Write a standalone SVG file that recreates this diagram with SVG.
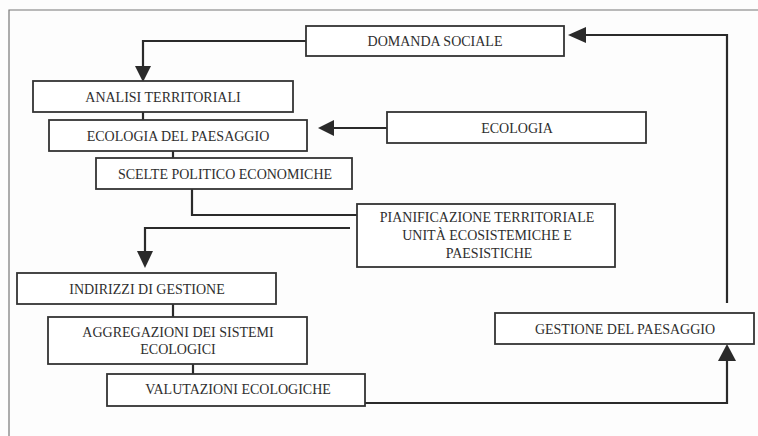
<svg xmlns="http://www.w3.org/2000/svg" width="758" height="436" viewBox="0 0 758 436">
<style>
.box{fill:#fff;stroke:#333;stroke-width:1.8}
.t{font-family:"Liberation Serif","Times New Roman",serif;font-size:14px;fill:#2e2e2e;text-anchor:middle}
.c{fill:none;stroke:#2a2a2a;stroke-width:2.2}
.frame{fill:none;stroke:#777;stroke-width:1.2}
.ah{fill:#2a2a2a}
</style>
<rect width="758" height="436" fill="#fdfdfd"/>
<path class="frame" d="M9,436 V10 H758"/>
<g id="connectors">
<path class="c" d="M306,41 H143 V68"/>
<polygon class="ah" points="135,66 151,66 143,82"/>
<path class="c" d="M143,112 V120"/>
<path class="c" d="M173,151 V158"/>
<path class="c" d="M192,189 V215 H357"/>
<path class="c" d="M387,128 H331"/>
<polygon class="ah" points="334,120 334,136 318,128"/>
<path class="c" d="M350,228 H145 V253"/>
<polygon class="ah" points="137,251 153,251 145,268"/>
<path class="c" d="M173,304 V317"/>
<path class="c" d="M193,364 V374"/>
<path class="c" d="M365,403 H727 V360"/>
<polygon class="ah" points="718,361 736,361 727,344"/>
<path class="c" d="M727,303 V35 H583"/>
<polygon class="ah" points="586,27 586,43 568,35"/>
</g>
<g id="domanda-sociale"><rect class="box" x="306" y="26" width="258" height="30"/><text class="t" x="435" y="46">DOMANDA SOCIALE</text></g>
<g id="analisi-territoriali"><rect class="box" x="33" y="81" width="260" height="31"/><text class="t" x="163" y="101.5">ANALISI TERRITORIALI</text></g>
<g id="ecologia-del-paesaggio"><rect class="box" x="49" y="120" width="258" height="31"/><text class="t" x="178" y="140.5">ECOLOGIA DEL PAESAGGIO</text></g>
<g id="ecologia"><rect class="box" x="387" y="112" width="259" height="31"/><text class="t" x="517" y="132.5">ECOLOGIA</text></g>
<g id="scelte-politico-economiche"><rect class="box" x="96" y="158" width="256" height="31"/><text class="t" x="225" y="178.5">SCELTE POLITICO ECONOMICHE</text></g>
<g id="pianificazione"><rect class="box" x="357" y="204" width="258" height="63"/><text class="t" x="487" y="222">PIANIFICAZIONE TERRITORIALE</text><text class="t" x="487" y="240">UNITÀ ECOSISTEMICHE E</text><text class="t" x="489" y="257.5">PAESISTICHE</text></g>
<g id="indirizzi-di-gestione"><rect class="box" x="17" y="273" width="259" height="31"/><text class="t" x="147" y="294">INDIRIZZI DI GESTIONE</text></g>
<g id="aggregazioni"><rect class="box" x="48" y="317" width="259" height="47"/><text class="t" x="178" y="336.5">AGGREGAZIONI DEI SISTEMI</text><text class="t" x="178" y="354">ECOLOGICI</text></g>
<g id="valutazioni-ecologiche"><rect class="box" x="107" y="374" width="258" height="32"/><text class="t" x="238" y="393.5">VALUTAZIONI ECOLOGICHE</text></g>
<g id="gestione-del-paesaggio"><rect class="box" x="495" y="313" width="259" height="31"/><text class="t" x="625" y="333.5">GESTIONE DEL PAESAGGIO</text></g>
</svg>
